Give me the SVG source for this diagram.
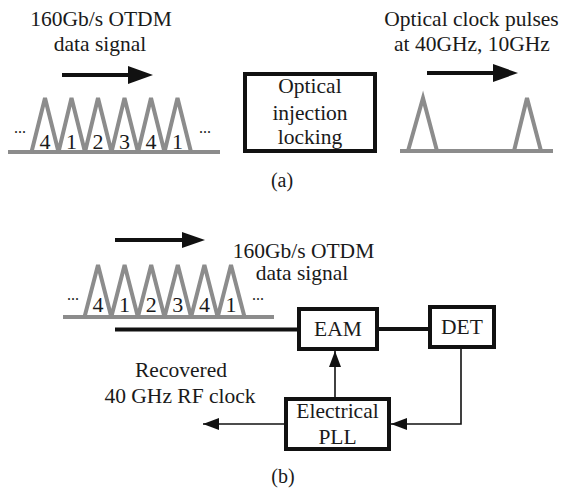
<svg xmlns="http://www.w3.org/2000/svg" width="563" height="488" viewBox="0 0 563 488">
<style>
text{font-family:"Liberation Serif","Times New Roman",serif;fill:#1a1a1a;}
.lbl{font-size:21.5px;text-anchor:middle;}
.num{font-size:22px;text-anchor:middle;}
.dots{font-size:16px;text-anchor:middle;}
.cap{font-size:20px;text-anchor:middle;}
.pulse{fill:none;stroke:#8c8c8c;stroke-width:4;stroke-linejoin:miter;}
.base{stroke:#8c8c8c;stroke-width:4;}
.box{fill:#fff;stroke:#111;stroke-width:4;}
.thick{stroke:#111;stroke-width:4;fill:none;}
.thin{stroke:#111;stroke-width:1.6;fill:none;}
.head{fill:#111;}
</style>
<defs>
<marker id="tri" viewBox="0 0 16 12" refX="16" refY="6" markerWidth="16" markerHeight="12" markerUnits="userSpaceOnUse" orient="auto">
<path d="M0,0 L16,6 L0,12 z" fill="#111"/>
</marker>
</defs>

<!-- (a) input data signal -->
<g id="a-input">
<text class="lbl" x="101" y="26">160Gb/s OTDM</text>
<text class="lbl" x="100" y="51">data signal</text>
<line class="thick" x1="62" y1="75" x2="132" y2="75" stroke-width="4.5"/>
<polygon class="head" points="128,66 153,75 128,84"/>
<line class="base" x1="8" y1="152" x2="220" y2="152"/>
<polyline class="pulse" points="31.5,152 45,98 58.5,152 71.5,98 85,152 98,98 111.5,152 124.5,98 138,152 151,98 164.5,152 177.5,98 191,152"/>
<text class="num" x="45" y="149">4</text>
<text class="num" x="71.5" y="149">1</text>
<text class="num" x="98" y="149">2</text>
<text class="num" x="124.5" y="149">3</text>
<text class="num" x="151" y="149">4</text>
<text class="num" x="177.5" y="149">1</text>
<text class="dots" x="20" y="133">...</text>
<text class="dots" x="205" y="133">...</text>
</g>

<!-- (a) optical injection locking -->
<g id="oil">
<rect class="box" x="245" y="74" width="130" height="77"/>
<text class="lbl" x="310" y="93">Optical</text>
<text class="lbl" x="310" y="120">injection</text>
<text class="lbl" x="310" y="144">locking</text>
</g>

<!-- (a) output clock pulses -->
<g id="a-output">
<text class="lbl" x="471.5" y="26">Optical clock pulses</text>
<text class="lbl" x="472" y="51">at 40GHz, 10GHz</text>
<line class="thick" x1="427" y1="73" x2="497" y2="73" stroke-width="4.5"/>
<polygon class="head" points="493,64 518,73 493,82"/>
<line class="base" x1="400" y1="151" x2="553" y2="151"/>
<polyline class="pulse" points="408,151 423,98 437,151"/>
<polyline class="pulse" points="514,151 527,98 541,151"/>
</g>

<text class="cap" x="282" y="187">(a)</text>

<!-- (b) input data signal -->
<g id="b-input">
<line class="thick" x1="115" y1="240" x2="186" y2="240" stroke-width="4.5"/>
<polygon class="head" points="182,232 205,240 182,248"/>
<text class="lbl" x="303.5" y="258">160Gb/s OTDM</text>
<text class="lbl" x="302" y="280">data signal</text>
<line class="base" x1="63" y1="317" x2="274" y2="317"/>
<polyline class="pulse" points="84.5,317 98,265 111.3,317 124.6,265 137.9,317 151.2,265 164.5,317 177.8,265 191.1,317 204.4,265 217.7,317 231,265 244.5,317"/>
<text class="num" x="98" y="312">4</text>
<text class="num" x="124.6" y="312">1</text>
<text class="num" x="151.2" y="312">2</text>
<text class="num" x="177.8" y="312">3</text>
<text class="num" x="204.4" y="312">4</text>
<text class="num" x="231" y="312">1</text>
<text class="dots" x="73" y="300">...</text>
<text class="dots" x="258" y="300">...</text>
</g>

<!-- connectors -->
<g id="connectors">
<line class="thick" x1="115" y1="329.5" x2="299" y2="329.5"/>
<line class="thick" x1="377" y1="329" x2="430" y2="329" stroke-width="3.5"/>
<polyline class="thin" points="461,349 461,424 391,424" marker-end="url(#tri)"/>
<line class="thin" x1="335" y1="397" x2="335" y2="351" marker-end="url(#tri)"/>
<line class="thin" x1="284" y1="424" x2="203" y2="424" marker-end="url(#tri)"/>
</g>

<g id="eam">
<rect class="box" x="299" y="309" width="78" height="40"/>
<text class="lbl" x="338" y="336">EAM</text>
</g>

<g id="det">
<rect class="box" x="430" y="307" width="64" height="40"/>
<text class="lbl" x="462" y="334">DET</text>
</g>

<g id="pll">
<rect class="box" x="286" y="399" width="103" height="50"/>
<text class="lbl" x="337.5" y="418">Electrical</text>
<text class="lbl" x="337.5" y="444">PLL</text>
</g>

<g id="b-output-label">
<text class="lbl" x="181" y="377">Recovered</text>
<text class="lbl" x="180" y="403">40 GHz RF clock</text>
</g>

<text class="cap" x="283" y="483">(b)</text>
</svg>
